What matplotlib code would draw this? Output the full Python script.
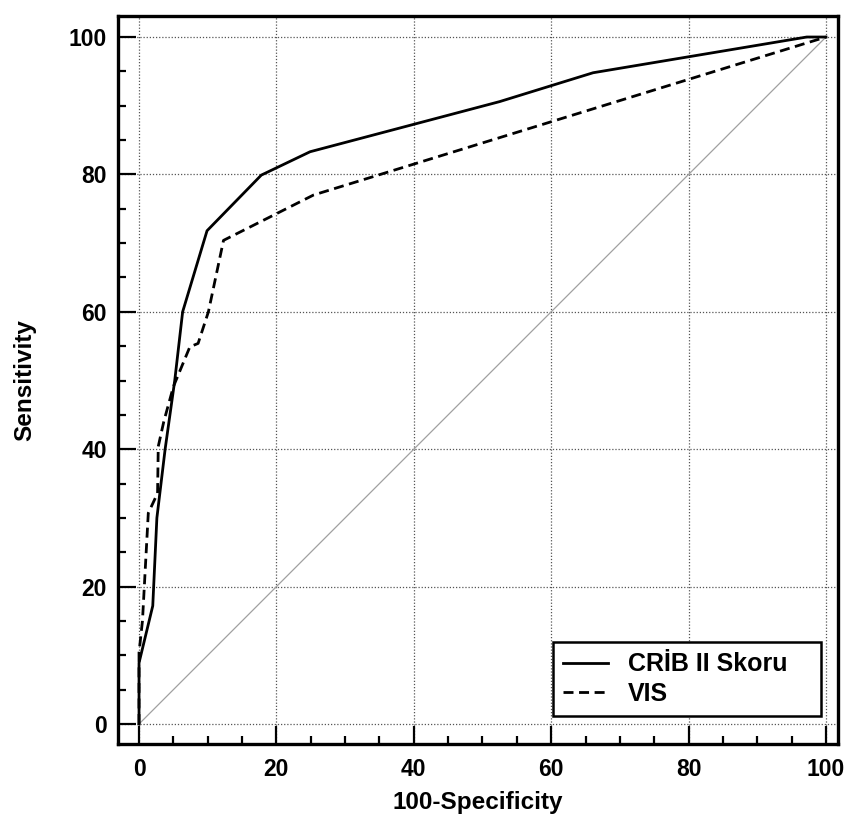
import matplotlib
matplotlib.use("Agg")
import matplotlib.pyplot as plt
from matplotlib.ticker import MultipleLocator

plt.rcParams['font.family'] = ['Liberation Sans', 'DejaVu Sans']
plt.rcParams['font.weight'] = 'bold'

# ROC curve data (100-Specificity, Sensitivity)
crib_x = [0, 0, 2.0, 2.6, 3.8, 5.2, 6.35, 9.9, 17.8, 24.9, 52.5, 66.1, 97.2, 100]
crib_y = [0, 8.9, 17.2, 30.0, 40.0, 50.0, 60.0, 71.8, 79.9, 83.3, 90.6, 94.8, 100, 100]

vis_x = [0, 0, 0.5, 0.9, 1.35, 2.7, 2.8, 3.6, 5.0, 6.2, 7.4, 8.6, 10.1, 12.3, 25.4, 100]
vis_y = [0, 10.4, 15.0, 22.4, 30.7, 33.6, 40.4, 44.0, 49.1, 52.0, 54.9, 55.4, 60.0, 70.4, 77.0, 100]

diag = [0, 100]
ticks = [0, 20, 40, 60, 80, 100]
labels = ["CRİB II Skoru", "VIS"]
xlabel = "100-Specificity"
ylabel = "Sensitivity"

fig = plt.figure(figsize=(8.48, 8.16), dpi=100)
ax = fig.add_axes([118/848, 1-744/816, 720/848, 728/816])

ax.plot(diag, diag, color='#a0a0a0', lw=0.9, zorder=2)
ax.plot(crib_x, crib_y, color='black', lw=2.0, ls='-', label=labels[0], zorder=3)
ax.plot(vis_x, vis_y, color='black', lw=2.0, ls=(0, (3.6, 2.0)), label=labels[1], zorder=3)

ax.set_xlim(-3.06, 101.75)
ax.set_ylim(-2.91, 103.06)
ax.set_xticks(ticks)
ax.set_yticks(ticks)
ax.xaxis.set_minor_locator(MultipleLocator(5))
ax.yaxis.set_minor_locator(MultipleLocator(5))
ax.grid(True, which='major', color='#555555', ls=(0, (1, 1.5)), lw=0.9, zorder=1)
ax.set_axisbelow(True)

ax.tick_params(which='major', direction='in', length=13, width=1.6,
               labelsize=16.5, pad=8, top=False, right=False)
ax.tick_params(axis='x', which='major', pad=10)
ax.tick_params(which='minor', direction='in', length=6, width=1.6,
               top=False, right=False)
for lab in ax.get_xticklabels() + ax.get_yticklabels():
    lab.set_fontweight('bold')
for s in ax.spines.values():
    s.set_linewidth(2.4)

ax.set_xlabel(xlabel, fontsize=17.5, fontweight='bold', labelpad=7)
ax.set_ylabel(ylabel, fontsize=17.5, fontweight='bold', labelpad=23)

leg = ax.legend(loc='lower left', bbox_to_anchor=(0.604, 0.0385, 0.372, 0.1),
                mode='expand', framealpha=1,
                fontsize=18, frameon=True, fancybox=False, edgecolor='black',
                handlelength=1.8, handletextpad=0.8, labelspacing=0.22,
                borderpad=0.4, borderaxespad=0)
leg.get_frame().set_linewidth(1.8)
for t in leg.get_texts():
    t.set_fontweight('bold')

fig.savefig("out.png", dpi=100)
